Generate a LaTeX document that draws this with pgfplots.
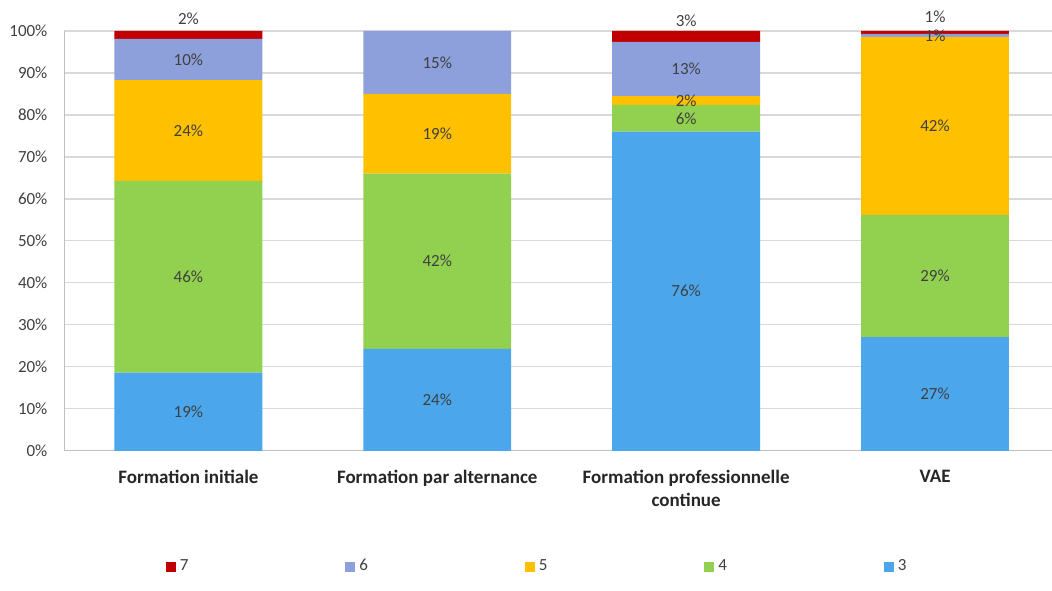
\documentclass[border=0pt]{standalone}
\usepackage{fontspec}
\setmainfont{Carlito}
\usepackage{pgfplots}
\pgfplotsset{compat=1.18}
\definecolor{c3}{HTML}{4BA6EC}
\definecolor{c4}{HTML}{92D050}
\definecolor{c5}{HTML}{FFC000}
\definecolor{c6}{HTML}{8EA0DC}
\definecolor{c7}{HTML}{C00000}
\definecolor{gridc}{HTML}{D9D9D9}
\definecolor{axisc}{HTML}{BFBFBF}
\definecolor{txt}{HTML}{404040}
\begin{document}
\begin{tikzpicture}
\begin{axis}[
    ybar stacked,
    x=124.5pt, y=2.1pt,
    bar width=74pt,
    xmin=-0.5, xmax=3.47,
    ymin=0, ymax=100,
    clip=false,
    axis x line*=bottom,
    axis y line*=left,
    axis line style={axisc},
    ymajorgrids,
    grid style={gridc, line width=0.6pt},
    ytick={0,10,...,100},
    yticklabel={\pgfmathprintnumber{\tick}\%},
    yticklabel style={font=\fontsize{8.5}{10}\selectfont, text=txt, xshift=-0.5pt},
    ytick style={draw=none},
    xtick={0,1,2,3},
    xticklabels={Formation initiale, Formation par alternance, {Formation professionnelle\\continue}, VAE},
    xticklabel style={font=\bfseries\fontsize{9.5}{11.5}\selectfont, text=black!85, align=center, anchor=north, yshift=-2pt},
    xtick style={draw=none},
    minor xtick={0.5,1.5,2.5},
    minor tick length=3pt,
    minor tick style={axisc},
    tick align=outside,
    /pgf/number format/assume math mode=true,
    point meta=explicit symbolic,
    nodes near coords,
    every node near coord/.append style={font=\fontsize{8.5}{10}\selectfont, text=txt, anchor=center},
    reverse legend,
    legend columns=5,
    legend style={draw=none, fill=none, font=\fontsize{8.5}{10}\selectfont, text=txt,
        at={(0.48,-0.276)}, anchor=center,
        /tikz/every even column/.append style={column sep=76.5pt}},
    legend image code/.code={\fill[#1] (0pt,-2.5pt) rectangle (5pt,2.5pt);},
]
\addplot[fill=c3, draw=none] coordinates {(0,18.6) [19\%] (1,24.3) [24\%] (2,76) [76\%] (3,27.1) [27\%]};
\addplot[fill=c4, draw=none] coordinates {(0,45.7) [46\%] (1,41.7) [42\%] (2,6.4) [6\%] (3,29.1) [29\%]};
\addplot[fill=c5, draw=none] coordinates {(0,24) [24\%] (1,19) [19\%] (2,2.1) [2\%] (3,42.4) [42\%]};
\addplot[fill=c6, draw=none] coordinates {(0,9.8) [10\%] (1,15) [15\%] (2,12.9) [13\%] (3,0.7) [1\%]};
\addplot[fill=c7, draw=none, every node near coord/.append style={anchor=south, yshift=1.5pt}] coordinates {(0,1.9) [2\%] (1,0) [\phantom{0}] (2,2.6) [3\%] (3,0.7) [1\%]};
\legend{3,4,5,6,7}
\end{axis}
\pgfresetboundingbox
\path[use as bounding box] ([xshift=-32pt,yshift=-70pt]current axis.south west) rectangle ([yshift=15.5pt]current axis.north east);
\end{tikzpicture}
\end{document}
